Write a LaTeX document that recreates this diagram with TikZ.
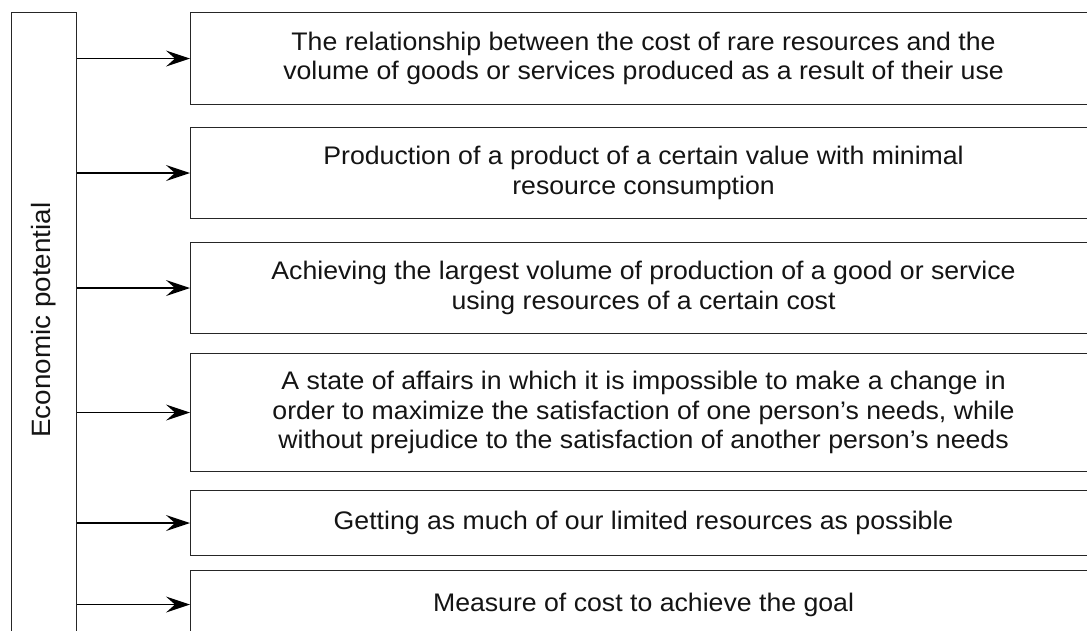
\documentclass[tikz,border=0pt]{standalone}
\usepackage{fontspec}
\setmainfont{Liberation Sans}
\newfontfamily\boxfont[FakeStretch=1.05]{Liberation Sans}
\usetikzlibrary{arrows.meta}
\begin{document}
\begin{tikzpicture}[x=1pt,y=-1pt,
  frame/.style={draw=black!85, line width=1.1pt},
  item/.style={frame, minimum width=906pt, anchor=north west, inner sep=0pt,
    align=center, text=black!92, font=\boxfont\fontsize{25.4}{29.5}\selectfont},
  link/.style={line width=1.4pt, -{Stealth[length=24pt,width=16pt,inset=9pt]}}]
\useasboundingbox (0,0) rectangle (1087,630);
\begin{scope}
\clip (0,0) rectangle (1087,630);
% vertical heading box, running off the lower edge
\node[frame, minimum width=65pt, minimum height=640pt, anchor=north west, inner sep=0pt] (side) at (11,12) {};
\node[rotate=90, text=black!92, font=\boxfont\fontsize{26.5}{30}\selectfont] (heading) at (44,320) {Economic potential};
% definition boxes
\node[item, minimum height=92pt] (b1) at (190,12)
  {The relationship between the cost of rare resources and the\\volume of goods or services produced as a result of their use};
\node[item, minimum height=91pt] (b2) at (190,127)
  {Production of a product of a certain value with minimal\\resource consumption};
\node[item, minimum height=91pt] (b3) at (190,242)
  {Achieving the largest volume of production of a good or service\\using resources of a certain cost};
\node[item, minimum height=118pt] (b4) at (190,353)
  {A state of affairs in which it is impossible to make a change in\\order to maximize the satisfaction of one person’s needs, while\\without prejudice to the satisfaction of another person’s needs};
\node[item, minimum height=65pt] (b5) at (190,490)
  {Getting as much of our limited resources as possible};
\node[item, minimum height=68pt] (b6) at (190,570)
  {Measure of cost to achieve the goal};
% connectors
\foreach \b in {b1,b2,b3,b4,b5,b6}
  \draw[link] (side.east |- \b.west) -- (\b.west);
\end{scope}
\end{tikzpicture}
\end{document}
